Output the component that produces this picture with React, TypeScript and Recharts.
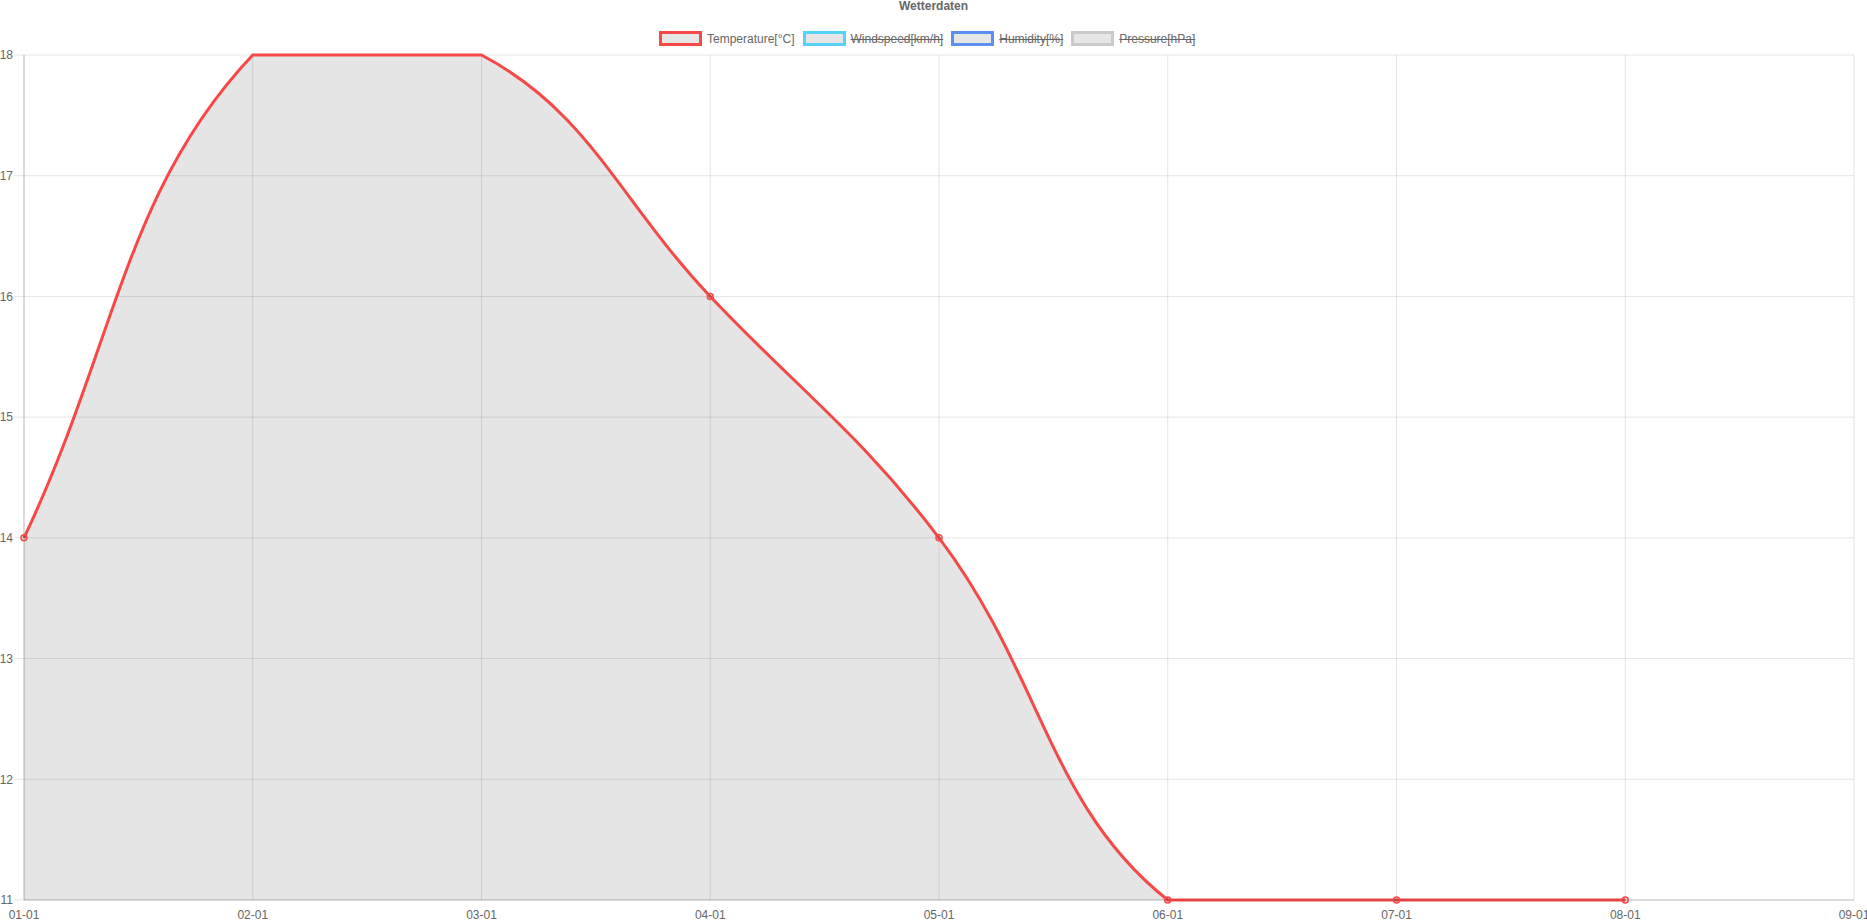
import React from "react";
import {
  AreaChart,
  Area,
  XAxis,
  YAxis,
  CartesianGrid,
} from "recharts";

const months = ["01-01", "02-01", "03-01", "04-01", "05-01", "06-01", "07-01", "08-01", "09-01"];
const temperature = [14, 18, 18, 16, 14, 11, 11, 11, null];
const yTicks = [11, 12, 13, 14, 15, 16, 17, 18];

const seriesNames = ["Temperature[°C]", "Windspeed[km/h]", "Humidity[%]", "Pressure[hPa]"];
const seriesColors = ["#f74848", "#55d3f6", "#5d8ef1", "#cacaca"];
const seriesHidden = [false, true, true, true];

const Y_MIN = 11;
const Y_MAX = 18;
const TENSION = 0.4;
const FONT = '"Liberation Sans", Arial, Helvetica, sans-serif';
const TEXT = "#666";
const GRID = "rgba(0,0,0,0.1)";
const FILL = "rgba(0,0,0,0.1)";

const data = months.map((month, i) => ({ month, temperature: temperature[i] }));

// bezier spline like the old canvas charts: tension 0.4, control points capped to the data box
function tensionCurve(context: any) {
  let xs: number[] = [];
  let ys: number[] = [];
  let line = NaN;
  const cap = (v: number, lo: number, hi: number) => Math.max(Math.min(v, hi), lo);
  return {
    areaStart() {
      line = 0;
    },
    areaEnd() {
      line = NaN;
    },
    lineStart() {
      xs = [];
      ys = [];
    },
    point(x: number, y: number) {
      xs.push(+x);
      ys.push(+y);
    },
    lineEnd() {
      const n = xs.length;
      if (n) {
        if (line) context.lineTo(xs[0], ys[0]);
        else context.moveTo(xs[0], ys[0]);
        const top = Math.min(...ys);
        const bottom = Math.max(...ys);
        const left = Math.min(...xs);
        const right = Math.max(...xs);
        const prev: number[][] = [];
        const next: number[][] = [];
        for (let i = 0; i < n; i++) {
          const p = i > 0 ? i - 1 : i;
          const q = i < n - 1 ? i + 1 : i;
          const d01 = Math.hypot(xs[i] - xs[p], ys[i] - ys[p]);
          const d12 = Math.hypot(xs[q] - xs[i], ys[q] - ys[i]);
          const sum = d01 + d12;
          const fa = sum ? (TENSION * d01) / sum : 0;
          const fb = sum ? (TENSION * d12) / sum : 0;
          const dx = xs[q] - xs[p];
          const dy = ys[q] - ys[p];
          prev.push([cap(xs[i] - fa * dx, left, right), cap(ys[i] - fa * dy, top, bottom)]);
          next.push([cap(xs[i] + fb * dx, left, right), cap(ys[i] + fb * dy, top, bottom)]);
        }
        for (let i = 1; i < n; i++) {
          context.bezierCurveTo(next[i - 1][0], next[i - 1][1], prev[i][0], prev[i][1], xs[i], ys[i]);
        }
      }
      if (line || (line !== 0 && n === 1)) context.closePath();
      line = 1 - line;
    },
  };
}

const renderDot = (props: any) => {
  const { cx, cy, payload, index } = props;
  const v = payload?.temperature;
  if (v == null || v >= Y_MAX) return <g key={`dot-${index}`} />;
  return (
    <circle
      key={`dot-${index}`}
      cx={cx}
      cy={cy}
      r={3}
      stroke={seriesColors[0]}
      strokeWidth={1.5}
      fill={FILL}
    />
  );
};

function Legend() {
  return (
    <div
      style={{
        position: "absolute",
        left: 659,
        top: 31,
        display: "flex",
        alignItems: "center",
        fontSize: 12,
        color: TEXT,
        whiteSpace: "nowrap",
      }}
    >
      {seriesNames.map((name, i) => (
        <div key={name} style={{ display: "flex", alignItems: "center", marginRight: 8 }}>
          <span
            style={{
              boxSizing: "border-box",
              width: 43,
              height: 15,
              border: `3px solid ${seriesColors[i]}`,
              background: "#e6e6e6",
              marginRight: 5,
            }}
          />
          <span style={{ textDecoration: seriesHidden[i] ? "line-through" : "none" }}>{name}</span>
        </div>
      ))}
    </div>
  );
}

export default function App() {
  return (
    <div
      style={{
        position: "absolute",
        left: 0,
        top: 0,
        width: 1867,
        height: 921,
        fontFamily: FONT,
        background: "#fff",
        overflow: "hidden",
      }}
    >
      <div
        style={{
          position: "absolute",
          left: 0,
          top: 0,
          width: 1867,
          textAlign: "center",
          fontSize: 12,
          fontWeight: "bold",
          color: TEXT,
          lineHeight: "12px",
        }}
      >
        Wetterdaten
      </div>
      <Legend />
      <AreaChart
        width={1867}
        height={921}
        data={data}
        margin={{ top: 55, right: 13, bottom: 0, left: 0 }}
        style={{ position: "absolute", left: 0, top: 0 }}
      >
        <CartesianGrid stroke={GRID} />
        <XAxis
          dataKey="month"
          height={21}
          interval={0}
          tickLine={false}
          tickSize={0}
          tickMargin={10}
          axisLine={{ stroke: "rgba(0,0,0,0.18)" }}
          tick={{ fill: TEXT, fontSize: 12 }}
        />
        <YAxis
          width={24}
          domain={[Y_MIN, Y_MAX]}
          ticks={yTicks}
          interval={0}
          tickSize={10}
          tickMargin={1}
          tickLine={{ stroke: GRID }}
          axisLine={{ stroke: "rgba(0,0,0,0.18)" }}
          tick={{ fill: TEXT, fontSize: 12 }}
        />
        <Area
          dataKey="temperature"
          name={seriesNames[0]}
          type={tensionCurve as any}
          stroke={seriesColors[0]}
          strokeWidth={3}
          fill="#000"
          fillOpacity={0.1}
          dot={renderDot}
          activeDot={false}
          isAnimationActive={false}
        />
      </AreaChart>
    </div>
  );
}
